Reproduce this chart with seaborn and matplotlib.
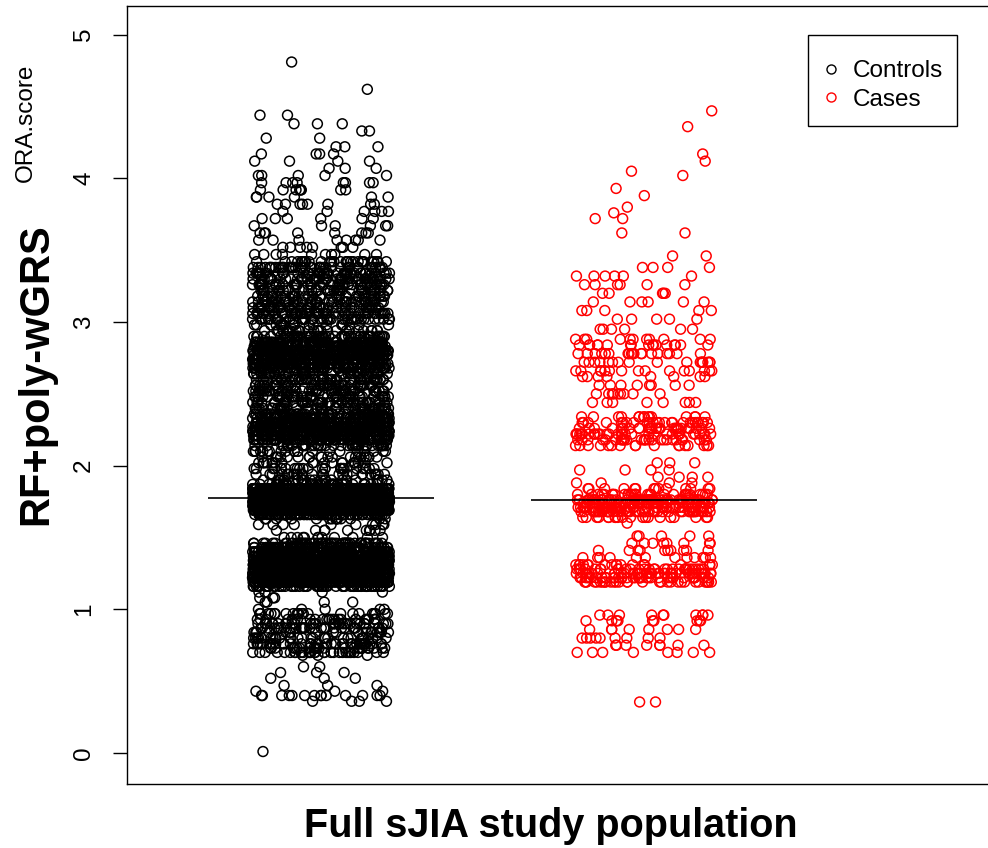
import numpy as np
import pandas as pd
import matplotlib
matplotlib.use("Agg")
import matplotlib.pyplot as plt
from matplotlib.lines import Line2D
from matplotlib.patches import Rectangle
import seaborn as sns

# ---------------- data ----------------
groups = ["Controls", "Cases"]
group_colors = ["black", "red"]
y_ticks = [0, 1, 2, 3, 4, 5]
y_label = "RF+poly-wGRS"
y_label_hidden = "ORA.score"
x_label = "Full sJIA study population"

ctrl_levels = [0.01,
               0.36, 0.40, 0.43, 0.47, 0.52, 0.56, 0.60,
               0.68, 0.70, 0.73, 0.76, 0.80, 0.84, 0.87, 0.90, 0.93, 0.97, 1.00, 1.05, 1.08, 1.12,
               1.16, 1.19, 1.22, 1.25, 1.28, 1.31, 1.34, 1.37, 1.40, 1.43, 1.46, 1.50, 1.55, 1.59, 1.63,
               1.66, 1.69, 1.72, 1.748, 1.776, 1.81, 1.84, 1.87, 1.90, 1.94, 1.98, 2.02, 2.06, 2.10,
               2.14, 2.18, 2.21, 2.24, 2.27, 2.30, 2.33, 2.36, 2.40, 2.44, 2.48, 2.52, 2.56, 2.60,
               2.64, 2.68, 2.71, 2.74, 2.77, 2.80, 2.83, 2.86, 2.90, 2.94, 2.98,
               3.02, 3.06, 3.10, 3.14, 3.18, 3.22, 3.26, 3.30, 3.34, 3.38, 3.42, 3.47,
               3.52, 3.57, 3.62, 3.67, 3.72, 3.77, 3.82, 3.87, 3.92, 3.97, 4.02, 4.07,
               4.12, 4.17, 4.22, 4.28, 4.33, 4.38, 4.44, 4.62, 4.81]
ctrl_counts = [1,
               4, 14, 3, 3, 3, 3, 2,
               3, 30, 25, 35, 30, 18, 30, 30, 25, 22, 5, 4, 3, 4,
               60, 150, 190, 200, 200, 180, 160, 140, 110, 80, 50, 12, 10, 10, 15,
               80, 200, 260, 280, 280, 250, 180, 40, 25, 25, 25, 20, 20, 20,
               40, 80, 100, 110, 110, 100, 90, 50, 45, 45, 45, 45, 45, 45,
               40, 70, 90, 100, 100, 100, 90, 80, 50, 25, 20,
               45, 50, 45, 43, 40, 35, 40, 47, 47, 40, 31, 10,
               8, 8, 8, 6, 6, 6, 8, 6, 8, 8, 5, 3,
               4, 4, 3, 2, 2, 3, 2, 1, 1]

case_levels = [0.355,
               0.70, 0.75, 0.80, 0.86, 0.92, 0.96,
               1.19, 1.22, 1.25, 1.28, 1.31, 1.36, 1.41, 1.46, 1.51, 1.60,
               1.64, 1.68, 1.71, 1.74, 1.762, 1.80, 1.84, 1.88, 1.92, 1.97, 2.02,
               2.14, 2.18, 2.22, 2.26, 2.30, 2.34, 2.44, 2.50, 2.56,
               2.62, 2.66, 2.72, 2.78, 2.84, 2.88, 2.95, 3.02, 3.08,
               3.14, 3.20, 3.26, 3.32, 3.38, 3.46, 3.62, 3.72, 3.76, 3.80,
               3.88, 3.93, 4.02, 4.05, 4.12, 4.17, 4.36, 4.47]
case_counts = [2,
               8, 8, 9, 8, 9, 10,
               30, 38, 38, 30, 18, 12, 10, 8, 5, 1,
               20, 40, 50, 40, 50, 30, 14, 4, 4, 4, 3,
               17, 27, 30, 27, 25, 15, 8, 9, 8,
               8, 15, 17, 19, 17, 11, 6, 5, 5,
               6, 5, 6, 6, 4, 2, 2, 2, 1, 1,
               1, 1, 1, 1, 1, 1, 1, 1]

df = pd.DataFrame({
    "group": ["Controls"] * sum(ctrl_counts) + ["Cases"] * sum(case_counts),
    "score": np.concatenate([np.repeat(ctrl_levels, ctrl_counts),
                             np.repeat(case_levels, case_counts)]),
})

# ---------------- figure ----------------
sns.set_theme(style="white")
plt.rcParams["font.family"] = ["Liberation Sans", "DejaVu Sans"]
plt.rcParams.update({"text.color": "black", "axes.labelcolor": "black",
                     "xtick.color": "black", "ytick.color": "black",
                     "axes.edgecolor": "black"})

W, H = 988, 848
fig = plt.figure(figsize=(W / 100, H / 100), dpi=100)
ax = fig.add_axes([127 / W, 1 - 784 / H, (988 - 127) / W, (784 - 6) / H])

np.random.seed(7)
sns.stripplot(data=df, x="group", y="score", hue="group", order=groups,
              hue_order=groups, palette=dict(zip(groups, group_colors)),
              jitter=0.212, size=7.1, linewidth=1.1, legend=False, ax=ax)
for coll in ax.collections:
    fc = coll.get_facecolors()
    coll.set_edgecolors(fc)
    coll.set_facecolors("none")
    coll.set_linewidths(1.1)

# median lines
for i, g in enumerate(groups):
    med = np.median(df.loc[df.group == g, "score"])
    ax.hlines(med, i - 0.35, i + 0.35, color="black", lw=1.2, zorder=5)

ax.set_xlim(-0.6006, 2.065)
ax.set_ylim(-0.216, 5.20)
ax.set_xticks([])
ax.set_xlabel("")
ax.set_ylabel("")
ax.set_yticks(y_ticks)
ax.set_yticklabels([str(t) for t in y_ticks], rotation=90, va="center",
                   fontsize=17.5, color="black")
ax.tick_params(axis="y", direction="out", length=10, width=1.0, pad=13,
               color="black", left=True)
for side in ["left", "top", "bottom"]:
    ax.spines[side].set_visible(True)
    ax.spines[side].set_color("black")
    ax.spines[side].set_linewidth(1.0)
ax.spines["right"].set_visible(False)

# labels
fig.text(26 / W, 1 - 123 / H, y_label_hidden, rotation=90, ha="center",
         va="center", fontsize=17.5, color="black")
fig.text(36 / W, 1 - 374 / H, y_label, rotation=90, ha="center",
         va="center", fontsize=30, fontweight="bold", color="black")
fig.text(551 / W, 1 - 826 / H, x_label, ha="center", va="center",
         fontsize=28.5, fontweight="bold", color="black")

# legend: box drawn as a rectangle, entries placed inside it
fig.patches.append(Rectangle((808 / W, 1 - 126 / H), (957 - 808) / W, (126 - 35) / H,
                             transform=fig.transFigure, fill=False,
                             edgecolor="black", linewidth=1.0, zorder=10))
handles = [Line2D([], [], ls="none", marker="o", markersize=6.5,
                  markerfacecolor="none", markeredgecolor=c, markeredgewidth=1.0)
           for c in group_colors]
leg = ax.legend(handles, groups, loc="upper left",
                bbox_to_anchor=(819 / W, 1 - 60 / H), bbox_transform=fig.transFigure,
                fontsize=17.5, frameon=False, borderpad=0, handletextpad=0.4,
                labelspacing=0.28, handlelength=1.0, borderaxespad=0)
for t in leg.get_texts():
    t.set_color("black")

fig.savefig("out.png", dpi=100)
